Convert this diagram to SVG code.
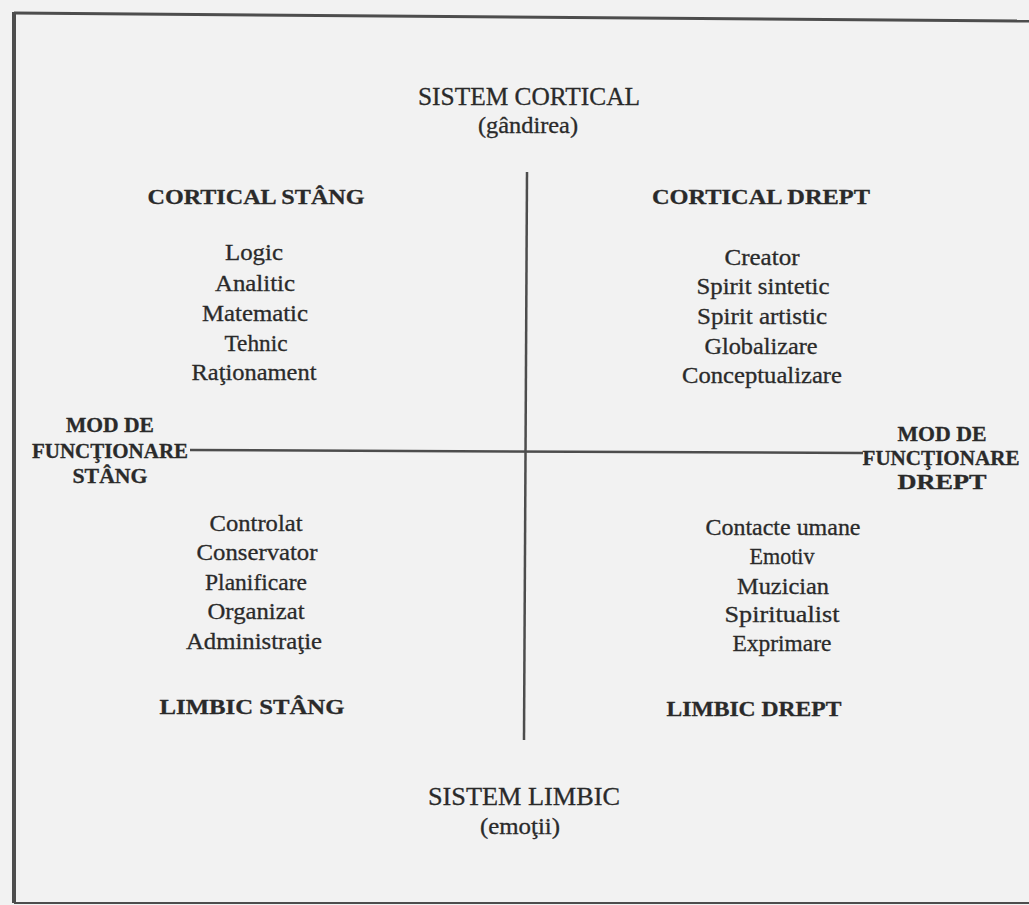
<svg xmlns="http://www.w3.org/2000/svg" width="1029" height="905" viewBox="0 0 1029 905">
<style>
.t{font-family:"Liberation Serif","Times New Roman",serif;fill:#2a2a2a;text-anchor:middle;stroke:#2a2a2a;stroke-width:0.3}
.h{font-weight:bold;font-size:22px}
.s{font-size:26px}
.i{font-size:23px}
.m{font-weight:bold;font-size:20px}
.ln{stroke:#4d4d4d;fill:none}
</style>
<rect x="0" y="0" width="1029" height="905" fill="#f2f2f2"/>
<g id="frame">
<line class="ln" x1="14" y1="13" x2="1029" y2="21" stroke-width="3"/>
<line class="ln" x1="14" y1="12" x2="14" y2="903" stroke-width="4"/>
<line class="ln" x1="14" y1="903" x2="1029" y2="903" stroke-width="2"/>
</g>
<g id="connectors">
<line class="ln" x1="527" y1="172" x2="524" y2="740" stroke-width="2.5"/>
<line class="ln" x1="190" y1="450" x2="863" y2="453" stroke-width="2.5"/>
</g>
<g id="sistem-cortical">
<text class="t s" x="529" y="105" textLength="222" lengthAdjust="spacingAndGlyphs">SISTEM CORTICAL</text>
<text class="t i" x="528" y="133" textLength="100" lengthAdjust="spacingAndGlyphs">(gândirea)</text>
</g>
<g id="cortical-stang">
<text class="t h" x="256" y="204" textLength="217" lengthAdjust="spacingAndGlyphs">CORTICAL STÂNG</text>
<text class="t i" x="254" y="260" textLength="58" lengthAdjust="spacingAndGlyphs">Logic</text>
<text class="t i" x="255" y="291" textLength="80" lengthAdjust="spacingAndGlyphs">Analitic</text>
<text class="t i" x="255" y="321" textLength="106" lengthAdjust="spacingAndGlyphs">Matematic</text>
<text class="t i" x="256" y="351" textLength="63" lengthAdjust="spacingAndGlyphs">Tehnic</text>
<text class="t i" x="254" y="380" textLength="125" lengthAdjust="spacingAndGlyphs">Raţionament</text>
</g>
<g id="cortical-drept">
<text class="t h" x="761" y="204" textLength="218" lengthAdjust="spacingAndGlyphs">CORTICAL DREPT</text>
<text class="t i" x="762" y="265" textLength="75" lengthAdjust="spacingAndGlyphs">Creator</text>
<text class="t i" x="763" y="294" textLength="133" lengthAdjust="spacingAndGlyphs">Spirit sintetic</text>
<text class="t i" x="762" y="324" textLength="130" lengthAdjust="spacingAndGlyphs">Spirit artistic</text>
<text class="t i" x="761" y="354" textLength="113" lengthAdjust="spacingAndGlyphs">Globalizare</text>
<text class="t i" x="762" y="383" textLength="160" lengthAdjust="spacingAndGlyphs">Conceptualizare</text>
</g>
<g id="mod-stang">
<text class="t m" x="110" y="432" textLength="88" lengthAdjust="spacingAndGlyphs">MOD DE</text>
<text class="t m" x="110" y="458" textLength="156" lengthAdjust="spacingAndGlyphs">FUNCŢIONARE</text>
<text class="t m" x="110" y="483" textLength="75" lengthAdjust="spacingAndGlyphs">STÂNG</text>
</g>
<g id="mod-drept">
<text class="t m" x="942" y="441" textLength="89" lengthAdjust="spacingAndGlyphs">MOD DE</text>
<text class="t m" x="941" y="465" textLength="157" lengthAdjust="spacingAndGlyphs">FUNCŢIONARE</text>
<text class="t m" x="942" y="489" textLength="89" lengthAdjust="spacingAndGlyphs">DREPT</text>
</g>
<g id="limbic-stang">
<text class="t i" x="256" y="531" textLength="93" lengthAdjust="spacingAndGlyphs">Controlat</text>
<text class="t i" x="257" y="560" textLength="121" lengthAdjust="spacingAndGlyphs">Conservator</text>
<text class="t i" x="256" y="590" textLength="102" lengthAdjust="spacingAndGlyphs">Planificare</text>
<text class="t i" x="256" y="619" textLength="97" lengthAdjust="spacingAndGlyphs">Organizat</text>
<text class="t i" x="254" y="649" textLength="136" lengthAdjust="spacingAndGlyphs">Administraţie</text>
<text class="t h" x="252" y="714" textLength="185" lengthAdjust="spacingAndGlyphs">LIMBIC STÂNG</text>
</g>
<g id="limbic-drept">
<text class="t i" x="783" y="535" textLength="155" lengthAdjust="spacingAndGlyphs">Contacte umane</text>
<text class="t i" x="782" y="564" textLength="65" lengthAdjust="spacingAndGlyphs">Emotiv</text>
<text class="t i" x="783" y="594" textLength="92" lengthAdjust="spacingAndGlyphs">Muzician</text>
<text class="t i" x="782" y="622" textLength="115" lengthAdjust="spacingAndGlyphs">Spiritualist</text>
<text class="t i" x="782" y="651" textLength="99" lengthAdjust="spacingAndGlyphs">Exprimare</text>
<text class="t h" x="754" y="716" textLength="175" lengthAdjust="spacingAndGlyphs">LIMBIC DREPT</text>
</g>
<g id="sistem-limbic">
<text class="t s" x="524" y="805" textLength="192" lengthAdjust="spacingAndGlyphs">SISTEM LIMBIC</text>
<text class="t i" x="520" y="834" textLength="80" lengthAdjust="spacingAndGlyphs">(emoţii)</text>
</g>
</svg>
